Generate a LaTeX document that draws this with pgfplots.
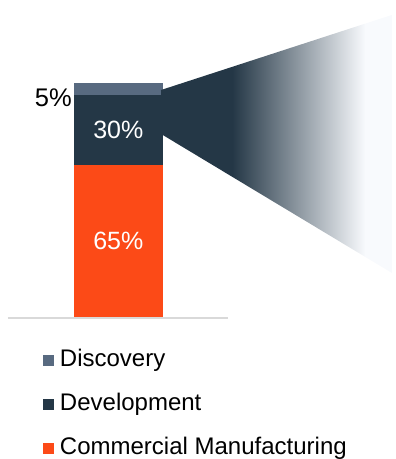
\documentclass[border=0pt]{standalone}
\usepackage{pgfplots}
\pgfplotsset{compat=1.18}
\usepackage{fontspec}
\setmainfont{Liberation Sans}
\definecolor{disc}{HTML}{586A80}
\definecolor{devc}{HTML}{243746}
\definecolor{comm}{HTML}{FC4A17}
\definecolor{fadec}{HTML}{F8FAFD}
\definecolor{basec}{HTML}{D9D9D9}
\pgfdeclarehorizontalshading{funnel}{100bp}{color(0bp)=(devc); color(25bp)=(devc); color(40.4bp)=(devc); color(69.2bp)=(fadec); color(75bp)=(fadec); color(100bp)=(fadec)}
\begin{document}
\begin{tikzpicture}
\pgfplotsset{common/.style={scale only axis, width=396bp, height=459bp,
  xmin=0, xmax=396, ymin=-60.68, ymax=135.47, hide axis, clip=false}}
\begin{axis}[common,
  ybar stacked, bar width=88.7,
  reverse legend,
  legend style={at={(axis cs:43,-13.68)}, anchor=north west, draw=none, fill=none,
    inner sep=0pt, outer sep=0pt, row sep=22bp,
    font=\fontsize{24bp}{28bp}\selectfont,
    nodes={inner sep=0pt, text height=17bp, text depth=5bp},
    cells={anchor=west},
    /tikz/every odd column/.style={column sep=6bp}},
]
\addplot[fill=comm, draw=none, legend image code/.code={\fill[comm] (0bp,-5.5bp) rectangle (11bp,5.5bp);}] coordinates {(118.3,65)};
\addlegendentry{Commercial Manufacturing}
\addplot[fill=devc, draw=none, legend image code/.code={\fill[devc] (0bp,-5.5bp) rectangle (11bp,5.5bp);}] coordinates {(118.3,30)};
\addlegendentry{Development}
\addplot[fill=disc, draw=none, legend image code/.code={\fill[disc] (0bp,-5.5bp) rectangle (11bp,5.5bp);}] coordinates {(118.3,5)};
\addlegendentry{Discovery}
\end{axis}
\begin{axis}[common]
\path (rel axis cs:0,0) rectangle (rel axis cs:1,1);
\addplot[draw=basec, line width=2bp] coordinates {(8,-0.5) (228,-0.5)};
\addplot[draw=none, shading=funnel] coordinates {(161,97.0) (392,129.1) (392,18.8) (162.7,77.8)} -- cycle;
\node[white, font=\fontsize{25bp}{29bp}\selectfont] at (axis cs:118.3,32.5) {65\%};
\node[white, font=\fontsize{25bp}{29bp}\selectfont] at (axis cs:118.3,80) {30\%};
\node[black, anchor=east, inner sep=0pt, font=\fontsize{25.5bp}{29bp}\selectfont] at (axis cs:72,93.6) {5\%};
\end{axis}
\end{tikzpicture}
\end{document}
